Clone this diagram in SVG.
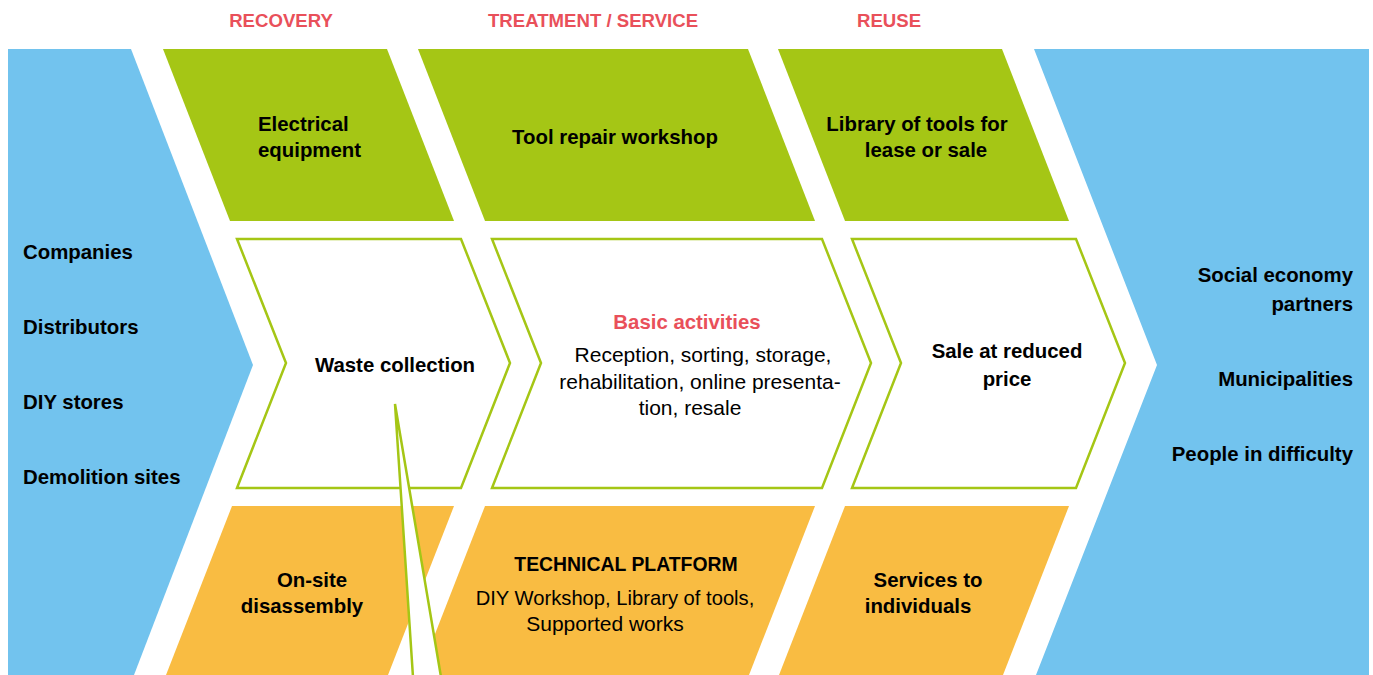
<svg xmlns="http://www.w3.org/2000/svg" width="1373" height="675" viewBox="0 0 1373 675">
<style>
.blue{fill:#72C3EE}
.green{fill:#A5C615}
.orange{fill:#F9BC42}
.chev{fill:#fff;stroke:#A5C615;stroke-width:2.5}
.hdr{font-family:"Liberation Sans",Arial,sans-serif;font-weight:bold;font-size:18.6px;fill:#E9505A;text-anchor:middle}
.b{font-family:"Liberation Sans",Arial,sans-serif;font-weight:bold;font-size:20.4px;fill:#000}
.r{font-family:"Liberation Sans",Arial,sans-serif;font-size:21px;fill:#000}
.red{fill:#E9505A}
.c{text-anchor:middle}
.e{text-anchor:end}
</style>
<rect width="1373" height="675" fill="#fff"/>
<g id="headers">
<text class="hdr" x="281" y="27">RECOVERY</text>
<text class="hdr" x="593" y="27">TREATMENT / SERVICE</text>
<text class="hdr" x="889" y="27">REUSE</text>
</g>
<g id="sources">
<polygon class="blue" points="8,49 131,49 253,365 134,675 8,675"/>
<text class="b" x="23" y="259">Companies</text>
<text class="b" x="23" y="334">Distributors</text>
<text class="b" x="23" y="409">DIY stores</text>
<text class="b" x="23" y="484">Demolition sites</text>
</g>
<g id="beneficiaries">
<polygon class="blue" points="1034,49 1369,49 1369,675 1036,675 1157,365"/>
<text class="b e" x="1353" y="282">Social economy</text>
<text class="b e" x="1353" y="311">partners</text>
<text class="b e" x="1353" y="386">Municipalities</text>
<text class="b e" x="1353" y="461">People in difficulty</text>
</g>
<g id="electrical-equipment">
<polygon class="green" points="163,49 387,49 454,221 230,221"/>
<text class="b" x="258" y="131">Electrical</text>
<text class="b" x="258" y="157">equipment</text>
</g>
<g id="tool-repair-workshop">
<polygon class="green" points="418,49 748,49 815,221 485,221"/>
<text class="b c" x="615" y="144">Tool repair workshop</text>
</g>
<g id="library-of-tools">
<polygon class="green" points="778,49 1002,49 1069,221 845,221"/>
<text class="b c" x="917" y="131">Library of tools for</text>
<text class="b c" x="926" y="157">lease or sale</text>
</g>
<g id="waste-collection">
<polygon class="chev" points="237,239 461,239 510,363 461,488 237,488 286,363"/>
<text class="b c" x="395" y="372">Waste collection</text>
</g>
<g id="basic-activities">
<polygon class="chev" points="492,239 822,239 871,363 822,488 492,488 541,363"/>
<text class="b c red" x="687" y="329">Basic activities</text>
<text class="r c" x="703" y="362">Reception, sorting, storage,</text>
<text class="r c" x="700" y="389">rehabilitation, online presenta-</text>
<text class="r c" x="690" y="415">tion, resale</text>
</g>
<g id="sale-reduced-price">
<polygon class="chev" points="852,239 1076,239 1125,363 1076,488 852,488 901,363"/>
<text class="b c" x="1007" y="358">Sale at reduced</text>
<text class="b c" x="1007" y="386">price</text>
</g>
<g id="on-site-disassembly">
<polygon class="orange" points="232,506 454,506 388,675 166,675"/>
<text class="b c" x="312" y="587">On-site</text>
<text class="b c" x="302" y="613">disassembly</text>
</g>
<g id="technical-platform">
<polygon class="orange" points="485,506 815,506 749,675 419,675"/>
<text class="b c" x="626" y="571" style="font-size:19.4px">TECHNICAL PLATFORM</text>
<text class="r c" x="615" y="605" style="font-size:20.2px">DIY Workshop, Library of tools,</text>
<text class="r c" x="605" y="631">Supported works</text>
</g>
<g id="services-individuals">
<polygon class="orange" points="845,506 1069,506 1003,675 779,675"/>
<text class="b c" x="928" y="587">Services to</text>
<text class="b c" x="918" y="613">individuals</text>
</g>
<g id="connectors">
<polygon points="395,404 413,677 441,677" fill="#fff" stroke="#A5C615" stroke-width="2.5" stroke-linejoin="miter"/>
</g>
</svg>
